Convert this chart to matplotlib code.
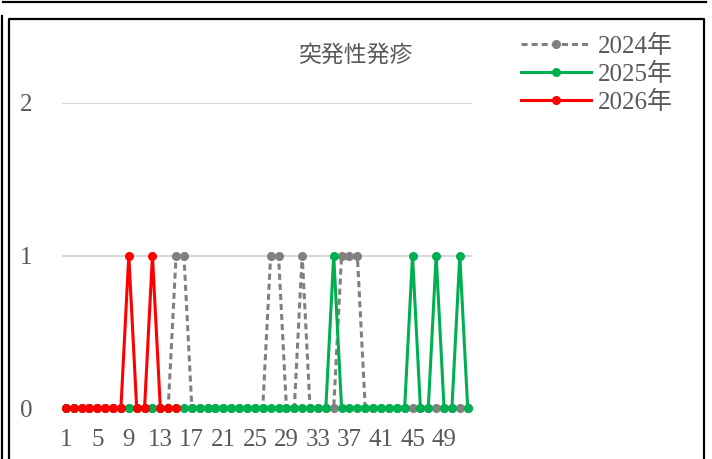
import matplotlib.pyplot as plt
from matplotlib.lines import Line2D

plt.rcParams['font.family'] = ['Liberation Serif', 'Noto Sans CJK JP']

# weekly counts
weeks = list(range(1, 53))
ones_2024 = [15, 16, 27, 28, 31, 36, 37, 38]
ones_2025 = [35, 45, 48, 51]
v2024 = [1 if w in ones_2024 else 0 for w in weeks]
v2025 = [1 if w in ones_2025 else 0 for w in weeks]
weeks_2026 = list(range(1, 16))
v2026 = [0, 0, 0, 0, 0, 0, 0, 0, 1, 0, 0, 1, 0, 0, 0]

title = '突発性発疹'
labels = ['2024年', '2025年', '2026年']
colors = ['#808080', '#00b050', '#ff0000']
xticks = list(range(1, 53, 4))
yticks = [0, 1, 2]

fig = plt.figure(figsize=(7.12, 4.59), dpi=100)
ax = fig.add_axes([0.0868, 0.1111, 0.5756, 0.6645])

ax.plot(weeks, v2024, color=colors[0], lw=2.2, ls=(0, (2, 1.3)), marker='o', ms=5.5, clip_on=False, zorder=3)
ax.plot(weeks, v2025, color=colors[1], lw=2.2, marker='o', ms=5.5, clip_on=False, zorder=4)
ax.plot(weeks_2026, v2026, color=colors[2], lw=2.2, marker='o', ms=5.5, clip_on=False, zorder=5)

ax.set_xlim(0.5, 52.5)
ax.set_ylim(0, 2)
ax.set_xticks(xticks)
ax.set_yticks(yticks)
ax.tick_params(length=0, labelsize=18, labelcolor='#595959')
ax.tick_params(axis='x', pad=15)
ax.tick_params(axis='y', pad=21)
ax.grid(axis='y', color='#d9d9d9', lw=1.5)
ax.set_axisbelow(True)
for s in ax.spines.values():
    s.set_visible(False)

fig.text(0.499, 0.878, title, ha='center', va='center', fontsize=16.5, color='#595959')

handles = [Line2D([], [], color=c, lw=2.2, marker='o', ms=5.5, ls=(0, (2, 1.3)) if i == 0 else '-')
           for i, c in enumerate(colors)]
leg = fig.legend(handles, labels, loc='upper left', bbox_to_anchor=(0.714, 0.952), frameon=False,
                 fontsize=18, handlelength=2.8, labelspacing=0.2, handletextpad=0.3, borderpad=0)
for t in leg.get_texts():
    t.set_color('#595959')

# chart borders
fig.add_artist(Line2D([3, 706], [457.5, 457.5], transform=None, color='black', lw=1.6))
fig.add_artist(Line2D([1.5, 1.5], [443, 0], transform=None, color='black', lw=1.6))
fig.add_artist(Line2D([9, 9, 704, 704], [0, 440, 440, 0], transform=None, color='black', lw=1.6))

fig.savefig('out.png', dpi=100)
